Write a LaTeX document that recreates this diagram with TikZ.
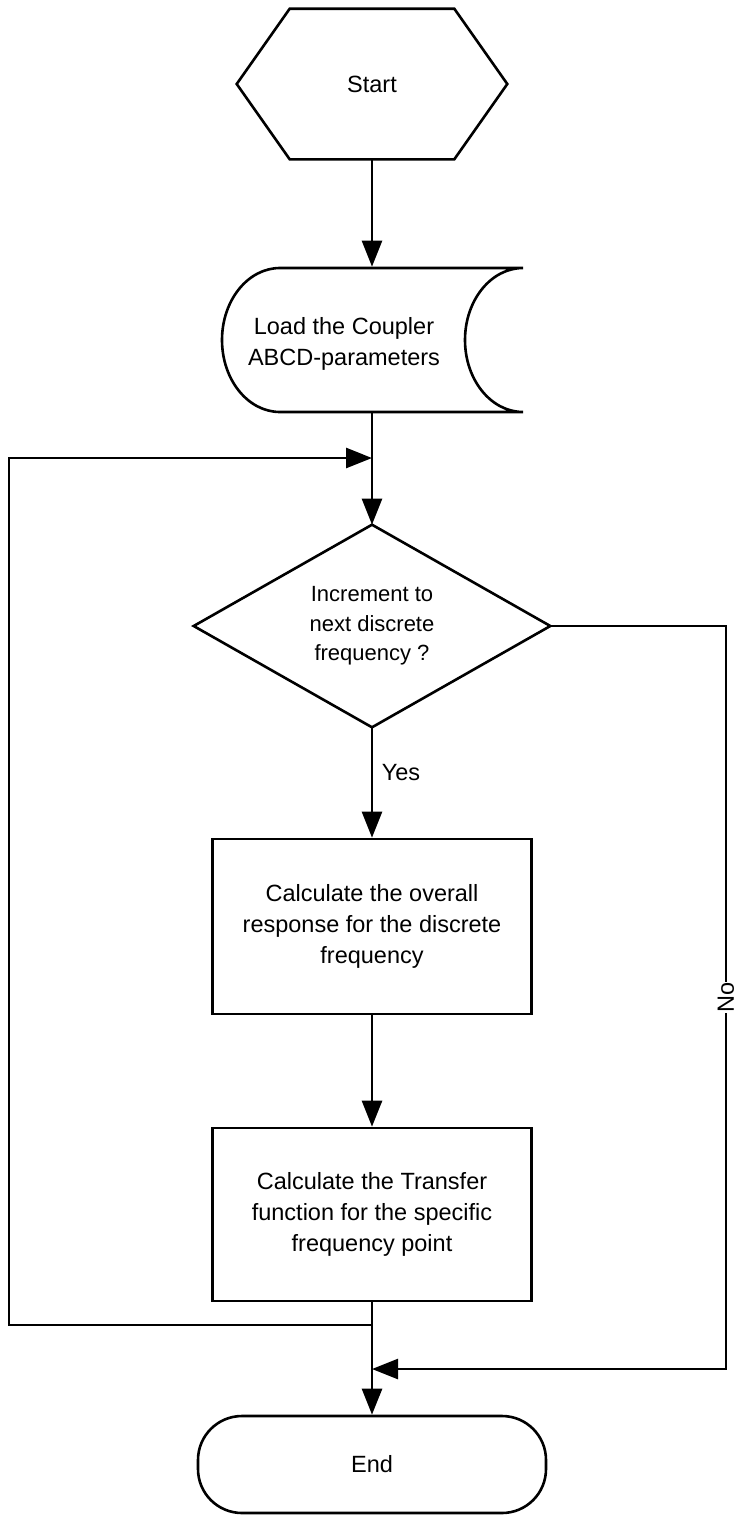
\documentclass[tikz,border=0pt]{standalone}
\usepackage{fontspec}
\setmainfont{Liberation Sans}
\usetikzlibrary{arrows.meta}
\begin{document}
\begin{tikzpicture}[x=1pt,y=-1pt,
  line width=2.6pt,
  every node/.style={font=\fontsize{23.5}{31}\selectfont, align=center},
  flow/.style={-{Triangle[length=26pt,width=20pt]}},
  area/.style={inner sep=0pt},
  procbox/.style={draw, minimum width=319pt, inner sep=4pt},
  terminal/.style={draw, rounded corners=44pt, minimum width=348pt, minimum height=97pt},
  lbl/.style={inner sep=0.5pt}]
\useasboundingbox (0,0) rectangle (736,1515);

% start (hexagon drawn around an invisible node)
\node[area, minimum width=268pt, minimum height=148pt] (start) at (372,84) {Start};
\draw (start.west) -- ([xshift=53pt]start.north west) -- ([xshift=-53pt]start.north east)
  -- (start.east) -- ([xshift=-53pt]start.south east) -- ([xshift=53pt]start.south west) -- cycle;

% stored-data shape
\node[area, minimum width=302pt, minimum height=144pt] (load) at (372,340) {};
\draw (523,268) -- (280,268)
  .. controls (248,268) and (222,300.2) .. (222,340)
  .. controls (222,379.8) and (248,412) .. (280,412)
  -- (523,412)
  .. controls (491,412) and (465,379.8) .. (465,340)
  .. controls (465,300.2) and (491,268) .. (523,268);
\node (loadtext) at (344,344) {Load the Coupler\\ABCD-parameters};

% decision
\node[area, minimum width=354pt, minimum height=200pt,
      font=\fontsize{22}{29.5}\selectfont] (dec) at (372,626) {Increment to\\next discrete\\frequency ?};
\draw (dec.north) -- (dec.east) -- (dec.south) -- (dec.west) -- cycle;

% processing steps
\node[procbox, minimum height=175pt] (calc) at (372,926.5)
  {Calculate the overall\\response for the discrete\\frequency};
\node[procbox, minimum height=173pt] (xfer) at (372,1214.5)
  {Calculate the Transfer\\function for the specific\\frequency point};

% end
\node[terminal] (end) at (372,1464.5) {End};

% junction and corner points
\coordinate (loopin) at (372,458);
\coordinate (loopout) at (372,1325);
\coordinate (lb) at (9,1325);
\coordinate (lt) at (9,458);
\coordinate (noin) at (372,1369);
\coordinate (rt) at (726,626);
\coordinate (rb) at (726,1369);

% connectors
\draw[flow] (start.south) -- (load.north);
\draw[flow] (load.south) -- (dec.north);
\draw[flow] (dec.south) -- node[lbl, pos=0.41, anchor=west, xshift=8pt] {Yes} (calc.north);
\draw[flow] (calc.south) -- (xfer.north);
\draw[flow] (xfer.south) -- (end.north);
\draw[flow] (loopout) -- (lb) -- (lt) -- (loopin);
\draw[flow] (dec.east) -- (rt) -- node[lbl, pos=0.5, rotate=90, fill=white] {No} (rb) -- (noin);
\end{tikzpicture}
\end{document}
